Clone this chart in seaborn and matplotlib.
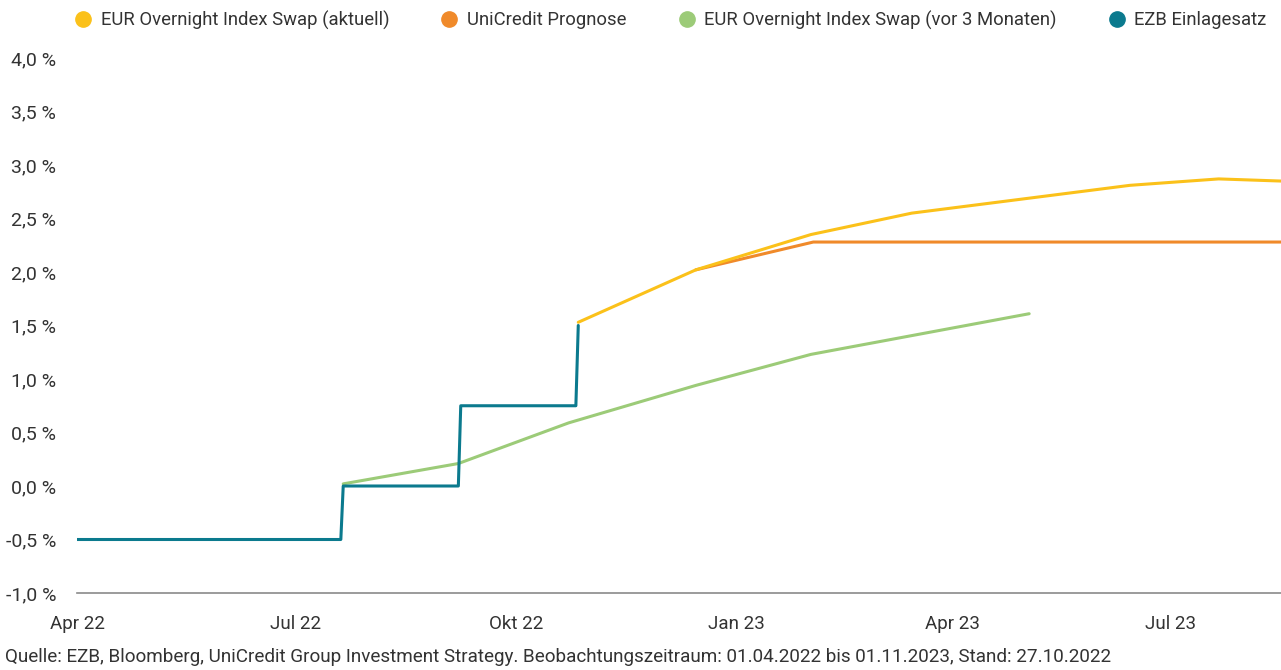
import matplotlib
matplotlib.use("Agg")
import matplotlib.pyplot as plt
import matplotlib.dates as mdates
from matplotlib.lines import Line2D
from matplotlib import font_manager
import seaborn as sns
import pandas as pd

# ---------------- data ----------------
ezb_dates = ["2022-04-01", "2022-07-20", "2022-07-21", "2022-09-07", "2022-09-08",
             "2022-10-26", "2022-10-27"]
ezb_values = [-0.5, -0.5, 0.0, 0.0, 0.75, 0.75, 1.5]

ois_now_dates = ["2022-10-27", "2022-12-15", "2023-02-01", "2023-03-15",
                 "2023-06-14", "2023-07-21", "2023-08-16"]
ois_now_values = [1.53, 2.02, 2.35, 2.55, 2.81, 2.87, 2.85]

uc_dates = ["2022-12-15", "2023-02-02", "2023-08-16"]
uc_values = [2.02, 2.28, 2.28]

ois_3m_dates = ["2022-07-21", "2022-09-07", "2022-10-23", "2022-12-15",
                "2023-02-01", "2023-05-03"]
ois_3m_values = [0.02, 0.21, 0.59, 0.94, 1.23, 1.61]

series_names = ["EUR Overnight Index Swap (aktuell)", "UniCredit Prognose",
                "EUR Overnight Index Swap (vor 3 Monaten)", "EZB Einlagesatz"]
colors = ["#FBC11A", "#F08A2A", "#9CCB78", "#0B7A8E"]

y_ticks = [-1.0, -0.5, 0.0, 0.5, 1.0, 1.5, 2.0, 2.5, 3.0, 3.5, 4.0]
x_tick_dates = ["2022-04-01", "2022-07-01", "2022-10-01", "2023-01-01",
                "2023-04-01", "2023-07-01"]
x_tick_labels = ["Apr 22", "Jul 22", "Okt 22", "Jan 23", "Apr 23", "Jul 23"]
source_text = ("Quelle: EZB, Bloomberg, UniCredit Group Investment Strategy. "
               "Beobachtungszeitraum: 01.04.2022 bis 01.11.2023, Stand: 27.10.2022")

# ---------------- style ----------------
sns.set_theme(style="white")
avail = {f.name for f in font_manager.fontManager.ttflist}
fam = [f for f in ["Liberation Sans Narrow", "Roboto", "DejaVu Sans"] if f in avail]
plt.rcParams["font.family"] = fam
text_color = "#333333"

fig = plt.figure(figsize=(12.81, 6.70), dpi=100)
ax = fig.add_axes([77 / 1281, 1 - 593 / 670, (1281 - 77) / 1281, (593 - 58) / 670])

frames = []
for name, d, v in [(series_names[0], ois_now_dates, ois_now_values),
                   (series_names[1], uc_dates, uc_values),
                   (series_names[2], ois_3m_dates, ois_3m_values),
                   (series_names[3], ezb_dates, ezb_values)]:
    frames.append(pd.DataFrame({"date": pd.to_datetime(d), "value": v, "series": name}))
df = pd.concat(frames, ignore_index=True)

# draw order: green, teal, orange, yellow on top
order = [series_names[2], series_names[3], series_names[1], series_names[0]]
for name in order:
    sub = df[df["series"] == name]
    sns.lineplot(data=sub, x="date", y="value", ax=ax, color=colors[series_names.index(name)],
                 linewidth=2.2, legend=False, estimator=None, sort=False)

ax.set_xlim(pd.Timestamp("2022-04-01"), pd.Timestamp("2023-08-16"))
ax.set_ylim(-1.0, 4.0)
ax.set_yticks(y_ticks)
ax.set_yticklabels([f"{t:.1f} %".replace(".", ",") for t in y_ticks])
ax.set_xticks(pd.to_datetime(x_tick_dates))
ax.set_xticklabels(x_tick_labels)
ax.set_xlabel("")
ax.set_ylabel("")
for s in ["top", "right", "left"]:
    ax.spines[s].set_visible(False)
ax.spines["bottom"].set_color("#8a8a8a")
ax.spines["bottom"].set_linewidth(1.2)
ax.tick_params(axis="y", length=0, pad=15, labelsize=14, labelcolor=text_color)
ax.tick_params(axis="x", length=0, pad=16, labelsize=13.5, labelcolor=text_color)
ax.grid(False)

handles = [Line2D([], [], linestyle="none", marker="o", markersize=11,
                  markerfacecolor=c, markeredgecolor=c) for c in colors]
fig.legend(handles, series_names, loc="center left", bbox_to_anchor=(74 / 1281, 1 - 20 / 670),
           ncol=4, frameon=False, fontsize=13.3, handlelength=1.0, handletextpad=0.45,
           columnspacing=2.75, labelcolor=text_color, borderaxespad=0, borderpad=0)

fig.text(5 / 1281, 1 - 657 / 670, source_text, ha="left", va="center",
         fontsize=13.6, color=text_color)

fig.savefig("out.png", dpi=100)
